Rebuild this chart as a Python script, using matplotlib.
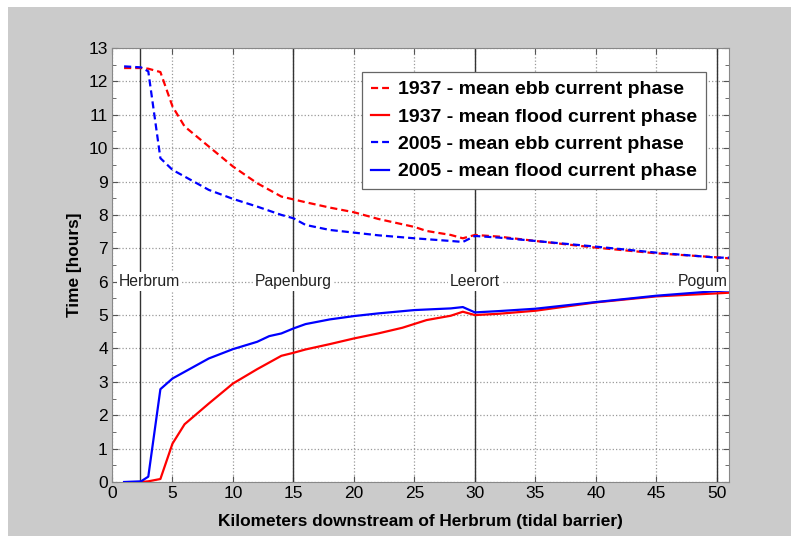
import matplotlib.pyplot as plt
from matplotlib.patches import Rectangle

plt.rcParams['font.family'] = ['Liberation Sans', 'DejaVu Sans']

# 1937 measurements
km_1937_ebb = [1, 2.4, 3, 4, 5, 6, 8, 10, 12, 14, 16, 18, 20, 22, 25, 26, 28, 29, 30, 32, 35, 40, 45, 50, 51]
ebb_1937 = [12.4, 12.4, 12.38, 12.28, 11.25, 10.65, 10.05, 9.45, 8.95, 8.55, 8.38, 8.22, 8.08, 7.88, 7.64, 7.52, 7.4, 7.3, 7.4, 7.35, 7.22, 7.02, 6.85, 6.73, 6.7]
km_1937_flood = [2.4, 3, 4, 5, 6, 8, 10, 12, 14, 15, 16, 18, 20, 22, 24, 26, 28, 29, 30, 32, 35, 40, 45, 50, 51]
flood_1937 = [0, 0.02, 0.09, 1.15, 1.73, 2.35, 2.95, 3.38, 3.78, 3.87, 3.97, 4.13, 4.3, 4.45, 4.62, 4.85, 4.98, 5.1, 5.0, 5.04, 5.13, 5.38, 5.56, 5.65, 5.67]

# 2005 measurements
km_2005_ebb = [1, 2.4, 3, 4, 5, 6, 8, 10, 12, 14, 15, 16, 18, 20, 22, 25, 28, 29, 30, 32, 35, 40, 45, 50, 51]
ebb_2005 = [12.45, 12.42, 12.3, 9.7, 9.35, 9.15, 8.75, 8.48, 8.25, 8.0, 7.9, 7.7, 7.55, 7.47, 7.39, 7.3, 7.22, 7.19, 7.37, 7.32, 7.22, 7.05, 6.87, 6.72, 6.72]
km_2005_flood = [1, 2.4, 3, 4, 5, 6, 8, 10, 12, 13, 14, 15, 16, 18, 20, 22, 25, 28, 29, 30, 32, 35, 40, 45, 50, 51]
flood_2005 = [0, 0.02, 0.16, 2.78, 3.1, 3.3, 3.7, 3.98, 4.2, 4.37, 4.45, 4.6, 4.73, 4.87, 4.97, 5.05, 5.15, 5.2, 5.24, 5.08, 5.12, 5.19, 5.39, 5.58, 5.72, 5.74]

places = ["Herbrum", "Papenburg", "Leerort", "Pogum"]
place_km = [2.35, 15, 30, 50]
label_x = [3.1, 15, 30, 50.85]
label_ha = ["center", "center", "center", "right"]

fig = plt.figure(figsize=(7.91, 5.36), dpi=100, facecolor="white")
fig.patches.append(Rectangle((8 / 791, 0), 1, (536 - 7) / 536, transform=fig.transFigure,
                             facecolor="#cbcbcb", edgecolor="none", zorder=-10))
ax = fig.add_axes([112 / 791, 54 / 536, 617 / 791, 434 / 536])
ax.set_facecolor("white")

for k in place_km:
    ax.axvline(k, color="#333333", lw=1, zorder=2)

dash = (0, (3.2, 1.8))
ax.plot(km_1937_ebb, ebb_1937, color="red", lw=1.6, ls=dash, label="1937 - mean ebb current phase", zorder=3)
ax.plot(km_1937_flood, flood_1937, color="red", lw=1.6, label="1937 - mean flood current phase", zorder=3)
ax.plot(km_2005_ebb, ebb_2005, color="blue", lw=1.6, ls=dash, label="2005 - mean ebb current phase", zorder=3)
ax.plot(km_2005_flood, flood_2005, color="blue", lw=1.6, label="2005 - mean flood current phase", zorder=3)

for name, x, ha in zip(places, label_x, label_ha):
    ax.text(x, 6, name, ha=ha, va="center", fontsize=11.3, color="#222222", zorder=4,
            bbox=dict(facecolor="white", edgecolor="none", pad=1.5))

ax.set_xlim(0, 51)
ax.set_ylim(0, 13)
ax.set_xticks(range(0, 51, 5))
ax.set_yticks(range(0, 14))
ax.set_yticks([i + 0.5 for i in range(13)], minor=True)
ax.tick_params(direction="in", which="both", top=True, right=True, labelsize=12.5, length=4, color="#555555", pad=3)
ax.tick_params(which="minor", length=3)
ax.grid(True, which="major", color="#999999", ls=":", lw=0.9)
for s in ax.spines.values():
    s.set_color("#888888")

ax.set_xlabel("Kilometers downstream of Herbrum (tidal barrier)", fontsize=12.4, fontweight="bold", labelpad=9)
ax.set_ylabel("Time [hours]", fontsize=12.4, fontweight="bold", labelpad=5)

leg = ax.legend(loc="upper right", bbox_to_anchor=(706 / 791, 1 - 72 / 536), bbox_transform=fig.transFigure,
                prop={"weight": "bold", "size": 14}, handlelength=0.95, handletextpad=0.45,
                labelspacing=0.5, borderpad=0.45, borderaxespad=0, fancybox=False, framealpha=1)
leg.get_frame().set_edgecolor("#666666")
leg.get_frame().set_linewidth(0.9)
leg.set_zorder(5)

fig.savefig("out.png", dpi=100, facecolor=fig.get_facecolor())
